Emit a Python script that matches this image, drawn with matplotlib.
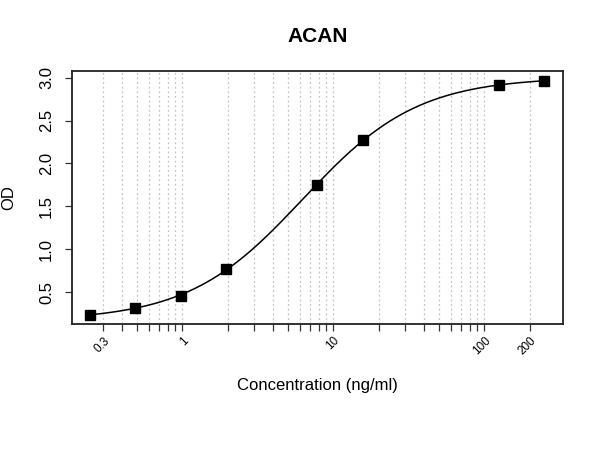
import numpy as np
import matplotlib
matplotlib.use("Agg")
import matplotlib.pyplot as plt
from matplotlib.ticker import FixedLocator, NullLocator, NullFormatter

plt.rcParams['font.family'] = ['Liberation Sans', 'DejaVu Sans']

# Data
title = "ACAN"
conc = [0.244, 0.488, 0.977, 1.95, 7.81, 15.625, 125, 250]
od = [0.233, 0.319, 0.451, 0.773, 1.754, 2.270, 2.911, 2.965]
x_ticks = [0.3, 0.4, 0.5, 0.6, 0.7, 0.8, 0.9,
           1, 2, 3, 4, 5, 6, 7, 8, 9,
           10, 20, 30, 40, 50, 60, 70, 80, 90,
           100, 200]
x_labeled = [0.3, 1, 10, 100, 200]
y_ticks = [0.5, 1.0, 1.5, 2.0, 2.5, 3.0]

x = np.array(conc, float)
y = np.array(od, float)

# 4PL fit: y = D + (A - D) / (1 + (x/C)^B); grid over C,B, linear solve A,D
best = None
for logc in np.linspace(np.log10(x.min()), np.log10(x.max()), 400):
    c = 10 ** logc
    for b in np.linspace(0.3, 4.0, 300):
        g = 1.0 / (1.0 + (x / c) ** b)
        M = np.column_stack([g, 1 - g])
        coef, *_ = np.linalg.lstsq(M, y, rcond=None)
        r = np.sum((M @ coef - y) ** 2)
        if best is None or r < best[0]:
            best = (r, c, b, coef)
_, C, B, (A, D) = best
xs = np.logspace(np.log10(x.min()), np.log10(x.max()), 400)
ys = D + (A - D) / (1 + (xs / C) ** B)

fig = plt.figure(figsize=(6, 4.5), dpi=100)
ax = fig.add_axes([0.1195, 0.2793, 0.8183, 0.5623])
ax.set_xscale('log')

lx = np.log10(x)
rx = lx.max() - lx.min()
ax.set_xlim(10 ** (lx.min() - 0.04 * rx), 10 ** (lx.max() + 0.04 * rx))
ry = y.max() - y.min()
ax.set_ylim(y.min() - 0.04 * ry, y.max() + 0.04 * ry)

for t in x_ticks:
    ax.axvline(t, color='#c4c4c4', lw=0.9, ls=(0, (1.5, 2.2)), zorder=0)

ax.plot(xs, ys, color='black', lw=1.1, zorder=2)
ax.plot(x, y, 's', color='black', ms=7.5, zorder=3)

ax.xaxis.set_major_locator(FixedLocator(x_ticks))
ax.xaxis.set_minor_locator(NullLocator())
ax.xaxis.set_minor_formatter(NullFormatter())
ax.set_xticklabels([('%g' % t) if t in x_labeled else '' for t in x_ticks],
                   rotation=45, ha='right', va='top', rotation_mode='anchor',
                   fontsize=8.5)
ax.set_yticks(y_ticks)
ax.set_yticklabels(['%.1f' % v for v in y_ticks], rotation=90, va='center',
                   ha='center', fontsize=12)

ax.tick_params(axis='x', direction='out', length=5, width=0.9, pad=2.5, color='#333333')
ax.tick_params(axis='y', direction='out', length=5, width=0.9, pad=13, color='#333333')
for s in ax.spines.values():
    s.set_linewidth(1.3)
    s.set_color('#222222')

ax.set_xlabel("Concentration (ng/ml)", fontsize=12)
ax.xaxis.set_label_coords(0.5, -0.24)
ax.xaxis.label.set_va('center')
ax.set_ylabel("OD", fontsize=12)
ax.yaxis.set_label_coords(-0.1277, 0.5)
ax.yaxis.label.set_va('center')
ax.text(0.5, 1.1356, title, transform=ax.transAxes, ha='center', va='center',
        fontsize=15, fontweight='bold')

fig.savefig('out.png', dpi=100)
